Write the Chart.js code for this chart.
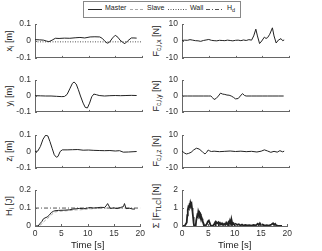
<!DOCTYPE html>
<html>
<head>
<meta charset="utf-8">
<script src="https://cdn.jsdelivr.net/npm/chart.js@4.4.0/dist/chart.umd.min.js"></script>
<style>
  body { margin: 0; background: #fff; width: 322px; height: 251px; position: relative; overflow: hidden;
         font-family: "Liberation Sans", Arial, sans-serif; color: #222; }
  canvas { position: absolute; }
  .ylab { position: absolute; font-size: 9px; white-space: nowrap; transform: translate(-50%, -50%) rotate(-90deg); }
  .ylab sub { font-size: 6.5px; vertical-align: -2px; }
  .leg { position: absolute; left: 83px; top: 1px; width: 156px; height: 15px; border: 1px solid #888; background: #fff; }
  .leg span { position: absolute; top: 2px; font-size: 7px; }
  .leg svg { position: absolute; left: 0; top: 0; }
</style>
</head>
<body>

<div class="leg">
  <svg width="156" height="15">
    <line x1="4" y1="7.5" x2="18" y2="7.5" stroke="#2b2b2b" stroke-width="1"/>
    <line x1="46" y1="7.5" x2="61" y2="7.5" stroke="#aaa" stroke-width="1" stroke-dasharray="3,2"/>
    <line x1="84" y1="7.5" x2="104" y2="7.5" stroke="#555" stroke-width="1" stroke-dasharray="1,1.5"/>
    <line x1="122" y1="7.5" x2="140" y2="7.5" stroke="#555" stroke-width="1" stroke-dasharray="4,2,1,2"/>
  </svg>
  <span style="left:21px">Master</span>
  <span style="left:63px">Slave</span>
  <span style="left:106px">Wall</span>
  <span style="left:143px">H<sub style="font-size:5.5px">d</sub></span>
</div>

<div class="ylab" style="left:9px; top:41px">x<sub>i</sub> [m]</div>
<div class="ylab" style="left:9px; top:96px">y<sub>i</sub> [m]</div>
<div class="ylab" style="left:9px; top:151px">z<sub>i</sub> [m]</div>
<div class="ylab" style="left:9px; top:206px">H<sub>i</sub> [J]</div>
<div class="ylab" style="left:156px; top:41px">F<sub>c,i,x</sub> [N]</div>
<div class="ylab" style="left:156px; top:96px">F<sub>c,i,y</sub> [N]</div>
<div class="ylab" style="left:156px; top:151px">F<sub>c,i,z</sub> [N]</div>
<div class="ylab" style="left:156px; top:206px">Σ |F<sub>TLC</sub>| [N]</div>

<canvas id="cX"></canvas>
<canvas id="cY"></canvas>
<canvas id="cZ"></canvas>
<canvas id="cH"></canvas>
<canvas id="cFx"></canvas>
<canvas id="cFy"></canvas>
<canvas id="cFz"></canvas>
<canvas id="cTLC"></canvas>

<script>
// time axis ticks
const timeTicks = [0, 5, 10, 15, 20];

// x position [m]
const tX = [0, 0.8, 1.6, 2.1, 2.6, 3.2, 3.8, 4.5, 5.5, 6.5, 7.5, 8.4, 9.3, 10.3, 11.2, 12.1, 12.6, 13.1, 13.5, 13.9, 14.5, 15.0, 15.5, 15.9, 16.4, 16.8, 17.3, 18.0, 18.5, 19.0];
const xMaster = [0.008, 0.007, 0.005, 0.0, -0.004, 0.005, 0.016, 0.015, 0.017, 0.016, 0.019, 0.021, 0.018, 0.024, 0.025, 0.024, 0.015, -0.003, -0.013, -0.008, 0.018, 0.034, 0.022, 0.005, -0.008, -0.016, 0.0, 0.018, 0.018, 0.017];
const tWall = [0, 20];
const xWall = [-0.005, -0.005];

// y position [m]
const tY = [0, 1, 2, 3, 4, 5, 5.5, 6, 6.5, 7, 7.3, 7.7, 8.1, 8.5, 9, 9.4, 9.8, 10.2, 10.6, 11, 11.5, 12, 13, 14, 15, 16, 17, 18, 19];
const yMaster = [0.002, 0.001, 0.0, 0.0, -0.002, -0.004, -0.003, 0.01, 0.045, 0.08, 0.088, 0.075, 0.04, 0.0, -0.045, -0.072, -0.075, -0.045, -0.005, 0.012, 0.008, 0.003, 0.0, 0.002, 0.003, 0.002, 0.003, 0.004, 0.003];

// z position [m]
const tZ = [0, 0.5, 1, 1.5, 2, 2.4, 2.8, 3.2, 3.6, 4, 4.3, 4.7, 5.1, 6, 7, 8, 9, 10, 11, 12, 13, 14, 15, 15.8, 16.5, 17.5, 18.5, 19];
const zMaster = [0, 0.002, 0.03, 0.075, 0.1, 0.095, 0.06, 0.02, -0.02, -0.035, -0.03, 0.0, 0.01, 0.01, 0.011, 0.012, 0.008, 0.009, 0.007, 0.006, 0.005, 0.006, 0.003, 0.005, -0.004, -0.003, -0.001, 0.0];

// energy [J]
const tH = [0, 0.6, 0.9, 1.3, 1.6, 1.9, 2.3, 2.7, 3.1, 3.5, 3.8, 4.5, 5.5, 6.5, 7.2, 7.8, 8.5, 9.2, 10, 10.5, 11, 11.8, 12.5, 13.2, 13.5, 13.8, 14.3, 15, 15.6, 16.2, 16.8, 17.0, 17.3, 18, 18.6, 19];
const hMaster = [0, 0, 0.012, 0.025, 0.04, 0.045, 0.05, 0.06, 0.075, 0.082, 0.085, 0.087, 0.088, 0.09, 0.094, 0.096, 0.098, 0.096, 0.1, 0.103, 0.1, 0.102, 0.104, 0.103, 0.112, 0.125, 0.098, 0.101, 0.097, 0.103, 0.108, 0.125, 0.097, 0.099, 0.094, 0.095];
const hSlave = [0, 0, 0.003, 0.012, 0.022, 0.03, 0.04, 0.05, 0.062, 0.072, 0.078, 0.082, 0.084, 0.086, 0.088, 0.09, 0.09, 0.092, 0.094, 0.096, 0.096, 0.098, 0.099, 0.1, 0.1, 0.1, 0.098, 0.099, 0.097, 0.099, 0.1, 0.1, 0.097, 0.098, 0.096, 0.096];
const tHd = [0, 20];
const hd = [0.1, 0.1];

// contact forces [N]
const tFx = [0, 0.5, 1, 1.5, 2, 2.5, 3, 3.5, 4, 4.5, 5, 5.5, 6, 6.5, 7, 7.5, 8, 8.5, 9, 9.5, 10, 10.5, 11, 11.5, 12, 12.5, 13.0, 13.4, 13.8, 14.1, 14.5, 14.9, 15.4, 15.7, 16.0, 16.4, 16.9, 17.2, 17.6, 18.0, 18.5, 18.8, 19.1];
const fx = [0.3, 0.5, 0.4, 0.8, 0.5, 0.2, 0.1, -0.2, 0.3, 0.6, 0.9, 0.4, 0.2, 0.1, 0.4, 0.3, 0.2, 0.5, 0.3, 0.1, 0.4, 0.5, 0.2, 0.6, 0.3, 0.8, 0.5, 3.0, 7.0, 3.0, -1.5, 0.0, 2.3, 1.5, 2.0, 4.0, 7.8, 3.0, -1.2, 0.5, 1.4, 0.2, 0.6];

const tFy = [0, 1, 2, 3, 4, 5, 5.4, 5.7, 6.0, 6.4, 6.8, 7.2, 7.6, 8.0, 8.4, 8.8, 9.2, 9.6, 10.0, 10.5, 10.9, 11.3, 11.7, 12.0, 13, 14, 15, 16, 17, 18, 19];
const fy = [0, 0, 0, 0, 0, 0, 0, -1.0, -2.2, -1.5, 0, 1.8, 1.2, 1.0, 0.6, 0.5, 0, -0.8, -1.8, -1.6, 0, 1.5, 0.3, 0, 0, 0, 0, 0, 0, 0, 0];

const tFz = [0, 0.4, 0.8, 1.2, 1.7, 2.2, 2.7, 3.2, 3.7, 4.0, 4.3, 4.6, 4.9, 5.2, 5.5, 6, 7, 8, 9, 10, 11, 12, 13, 14, 14.8, 15.4, 16, 16.6, 17.2, 17.8, 18.3, 18.8, 19.1];
const fz = [0.3, -0.8, -1.5, -1.2, -0.5, 1.0, 2.0, 1.5, 0.2, -0.8, -1.5, -0.5, 0.9, 0.3, 0, 0.2, -0.1, 0.1, 0.3, 0.0, 0.2, -0.1, 0.1, -0.3, 0.2, 1.0, 0.3, -0.5, 0.1, -0.4, 0.5, -0.2, 0.2];

const tTLC = [0, 0.5, 0.9, 1.0, 1.1, 1.2, 1.3, 1.4, 1.5, 1.6, 1.7, 1.8, 1.9, 2.0, 2.1, 2.2, 2.3, 2.6, 2.7, 2.9, 3.0, 3.1, 3.2, 3.3, 3.4, 3.5, 3.6, 3.7, 3.8, 3.9, 4.0, 4.2, 4.4, 4.7, 4.9, 5.1, 5.3, 5.5, 5.9, 6.1, 6.3, 6.4, 6.5, 6.7, 6.9, 7.0, 7.2, 7.4, 7.6, 7.8, 8.0, 8.2, 8.4, 8.6, 8.8, 8.9, 9.1, 9.3, 9.4, 9.6, 9.8, 10.0, 10.2, 10.5, 10.8, 11.1, 11.4, 11.7, 12.0, 12.4, 12.8, 13.2, 13.6, 14.0, 14.4, 14.6, 14.8, 15.0, 15.3, 15.7, 16.1, 16.5, 17.0, 17.3, 17.5, 17.7, 17.9, 18.2, 18.6, 19];
const fTLC = [0, 0, 0.2, 0.6, 0.9, 1.05, 1.0, 1.15, 1.1, 1.3, 1.2, 1.25, 1.0, 0.8, 0.5, 0.2, 0, 0, 0.3, 0.6, 0.55, 0.8, 0.7, 0.75, 0.62, 0.66, 0.55, 0.5, 0.4, 0.3, 0.2, 0.05, 0, 0.1, 0.25, 0.3, 0.15, 0, 0.02, 0.1, 0.2, 0.12, 0.22, 0.15, 0.2, 0.1, 0.18, 0.08, 0.15, 0.05, 0.12, 0.06, 0.18, 0.08, 0.2, 0.1, 0.3, 0.1, 0.35, 0.08, 0.15, 0.05, 0.12, 0.06, 0.1, 0.03, 0.08, 0.02, 0.06, 0.03, 0.05, 0.02, 0.06, 0.03, 0.12, 0.05, 0.15, 0.05, 0.08, 0.02, 0.04, 0.02, 0.08, 0.15, 0.06, 0.12, 0.04, 0.02, 0, 0];

const axisColor = '#666';
const tickFont = { family: 'Liberation Sans', size: 8.5 };

function pts(ts, vs) {
    return ts.map((t, i) => ({ x: t, y: vs[i] }));
}

function master(ts, vs, w) {
    return { data: pts(ts, vs), borderColor: '#222', borderWidth: w || 1 };
}
function slave(ts, vs) {
    return { data: pts(ts, vs), borderColor: '#aaa', borderWidth: 1, borderDash: [3, 2] };
}
function wall(ts, vs) {
    return { data: pts(ts, vs), borderColor: '#555', borderWidth: 1, borderDash: [1, 1.5] };
}
function dashDot(ts, vs) {
    return { data: pts(ts, vs), borderColor: '#555', borderWidth: 1, borderDash: [4, 2, 1, 2] };
}

// MATLAB style ticks pointing into the axes
const inwardTicks = {
    id: 'inwardTicks',
    afterDraw(chart) {
        const { ctx, chartArea: a, scales: { x, y } } = chart;
        ctx.save();
        ctx.strokeStyle = axisColor;
        ctx.lineWidth = 1;
        ctx.beginPath();
        x.ticks.forEach(t => {
            const px = Math.round(x.getPixelForValue(t.value)) + 0.5;
            ctx.moveTo(px, a.bottom);
            ctx.lineTo(px, a.bottom - 2);
        });
        y.ticks.forEach(t => {
            const py = Math.round(y.getPixelForValue(t.value)) + 0.5;
            ctx.moveTo(a.left, py);
            ctx.lineTo(a.left + 2, py);
        });
        ctx.stroke();
        ctx.restore();
    }
};

function panel(id, plotLeft, plotTop, plotBottom, datasets, yMin, yMax, yStep, showX) {
    const c = document.getElementById(id);
    const w = 30 + 107 + 6;
    const h = (plotBottom - plotTop) + 6 + (showX ? 25 : 6);
    c.width = w;
    c.height = h;
    c.style.left = (plotLeft - 30) + 'px';
    c.style.top = (plotTop - 6) + 'px';
    datasets.forEach(d => { d.pointRadius = 0; d.tension = 0; d.fill = false; });
    new Chart(c.getContext('2d'), {
        type: 'line',
        data: { datasets: datasets },
        options: {
            responsive: false,
            animation: false,
            events: [],
            layout: { padding: { top: 6, right: 6, bottom: showX ? 0 : 6, left: 0 } },
            plugins: { legend: { display: false }, tooltip: { enabled: false } },
            scales: {
                x: {
                    type: 'linear', min: 0, max: 20,
                    afterBuildTicks: s => { s.ticks = timeTicks.map(v => ({ value: v })); },
                    ticks: { display: showX, font: tickFont, color: '#333', padding: 3, maxRotation: 0 },
                    grid: { display: false, drawTicks: false },
                    border: { color: axisColor },
                    title: { display: showX, text: 'Time [s]', font: { family: 'Liberation Sans', size: 9.5 }, color: '#222', padding: 0 },
                    afterFit: s => { s.height = showX ? 25 : 0; }
                },
                y: {
                    min: yMin, max: yMax,
                    ticks: { stepSize: yStep, font: tickFont, color: '#333', padding: 4 },
                    grid: { display: false, drawTicks: false },
                    border: { color: axisColor },
                    afterFit: s => { s.width = 30; }
                }
            }
        },
        plugins: [inwardTicks]
    });
}

window.onload = function() {
    panel('cX', 35, 21, 61, [master(tX, xMaster), wall(tWall, xWall)], -0.1, 0.1, 0.1, false);
    panel('cY', 35, 77, 115, [master(tY, yMaster)], -0.1, 0.1, 0.1, false);
    panel('cZ', 35, 132, 171, [master(tZ, zMaster)], -0.1, 0.1, 0.1, false);
    panel('cH', 35, 187, 226, [master(tH, hMaster), slave(tH, hSlave), dashDot(tHd, hd)], 0, 0.2, 0.1, true);

    panel('cFx', 182, 21, 61, [master(tFx, fx)], -10, 10, 10, false);
    panel('cFy', 182, 77, 115, [master(tFy, fy)], -10, 10, 10, false);
    panel('cFz', 182, 132, 171, [master(tFz, fz)], -10, 10, 10, false);
    panel('cTLC', 182, 187, 226, [master(tTLC, fTLC, 1.8)], 0, 2, 1, true);
}
</script>
</body>
</html>
